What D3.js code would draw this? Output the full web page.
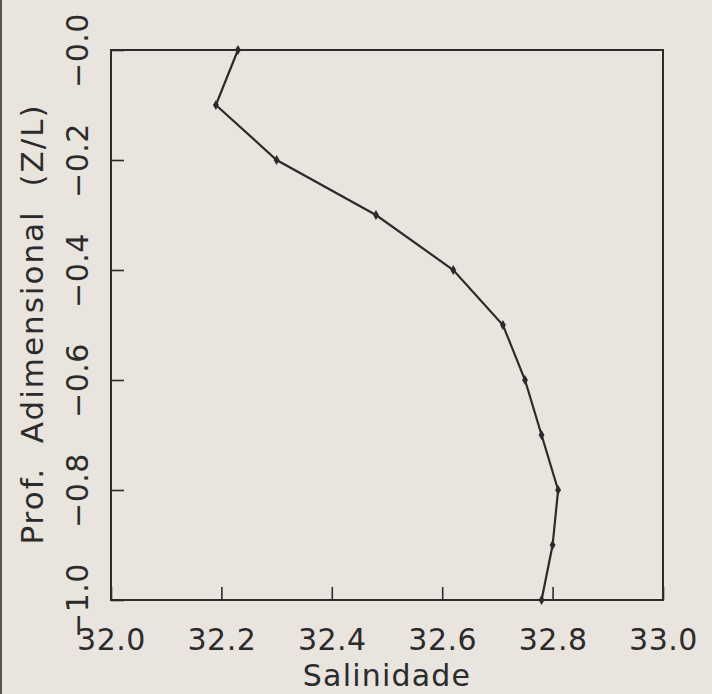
<!DOCTYPE html>
<html>
<head>
<meta charset="utf-8">
<script src="https://cdn.jsdelivr.net/npm/d3@7"></script>
<style>
  html, body { margin: 0; padding: 0; background: #e9e4dd; }
  svg { display: block; }
  text { font-family: "DejaVu Sans", sans-serif; fill: #2b2b2b; }
</style>
</head>
<body>
<svg width="712" height="694"></svg>
<script>
// profile values
const depth = [0.0, -0.1, -0.2, -0.3, -0.4, -0.5, -0.6, -0.7, -0.8, -0.9, -1.0];
const salinity = [32.23, 32.19, 32.30, 32.48, 32.62, 32.71, 32.75, 32.78, 32.81, 32.80, 32.78];

const xTicks = [32.0, 32.2, 32.4, 32.6, 32.8, 33.0];
const yTicks = [0.0, -0.2, -0.4, -0.6, -0.8, -1.0];
const yTickLabels = ['\u22120.0', '\u22120.2', '\u22120.4', '\u22120.6', '\u22120.8', '\u22121.0'];

const svg = d3.select('svg');
const ink = '#2b2b2b';

const x = d3.scaleLinear().domain([32.0, 33.0]).range([111, 663]);
const y = d3.scaleLinear().domain([-1.0, 0.0]).range([600, 50]);

// scan edge on the left
svg.append('line')
  .attr('x1', 1).attr('x2', 1).attr('y1', 0).attr('y2', 694)
  .attr('stroke', '#555').attr('stroke-width', 2);

// x axis: ticks point inward, labels below
const gx = svg.append('g')
  .attr('transform', `translate(0,${y(-1.0)})`)
  .call(d3.axisBottom(x).tickValues(xTicks).tickSizeInner(-13).tickSizeOuter(0).tickFormat(d3.format('.1f')));
gx.select('.domain').remove();
gx.selectAll('.tick line').attr('stroke', ink).attr('stroke-width', 1.6);
gx.selectAll('.tick text')
  .attr('y', 50).attr('dy', 0)
  .style('font-size', '30px')
  .style('letter-spacing', '0.5px')
  .style('font-family', '"DejaVu Sans", sans-serif')
  .attr('fill', ink);

// y axis: rotated labels
const gy = svg.append('g')
  .attr('transform', `translate(${x(32.0)},0)`)
  .call(d3.axisLeft(y).tickValues(yTicks).tickSizeInner(-13).tickSizeOuter(0)
    .tickFormat((d, i) => yTickLabels[i]));
gy.select('.domain').remove();
gy.selectAll('.tick line').attr('stroke', ink).attr('stroke-width', 1.6);
gy.selectAll('.tick text')
  .attr('x', null).attr('dy', null)
  .attr('text-anchor', 'middle')
  .attr('transform', 'translate(-23,0) rotate(-90)')
  .style('font-size', '30px')
  .style('letter-spacing', '0.5px')
  .style('font-family', '"DejaVu Sans", sans-serif')
  .attr('fill', ink);

// frame
svg.append('rect')
  .attr('x', x(32.0)).attr('y', y(0.0))
  .attr('width', x(33.0) - x(32.0)).attr('height', y(-1.0) - y(0.0))
  .attr('fill', 'none').attr('stroke', ink).attr('stroke-width', 2);

// titles
svg.append('text')
  .attr('x', (x(32.0) + x(33.0)) / 2).attr('y', 686)
  .attr('text-anchor', 'middle')
  .style('font-size', '30px')
  .style('letter-spacing', '1.2px')
  .text('Salinidade');

svg.append('text')
  .attr('transform', `translate(43,324) rotate(-90)`)
  .attr('text-anchor', 'middle')
  .style('font-size', '31px')
  .style('letter-spacing', '2px')
  .style('white-space', 'pre')
  .text('Prof.  Adimensional  (Z/L)');

// profile line
const pts = depth.map((d, i) => ({ d, s: salinity[i] }));
svg.append('path')
  .datum(pts)
  .attr('fill', 'none')
  .attr('stroke', ink)
  .attr('stroke-width', 2.2)
  .attr('d', d3.line().x(p => x(p.s)).y(p => y(p.d)));

svg.selectAll('.mk')
  .data(pts)
  .enter()
  .append('path')
  .attr('class', 'mk')
  .attr('transform', p => `translate(${x(p.s)},${y(p.d)})`)
  .attr('d', d3.symbol().type(d3.symbolDiamond).size(30))
  .attr('fill', ink);
</script>
</body>
</html>
